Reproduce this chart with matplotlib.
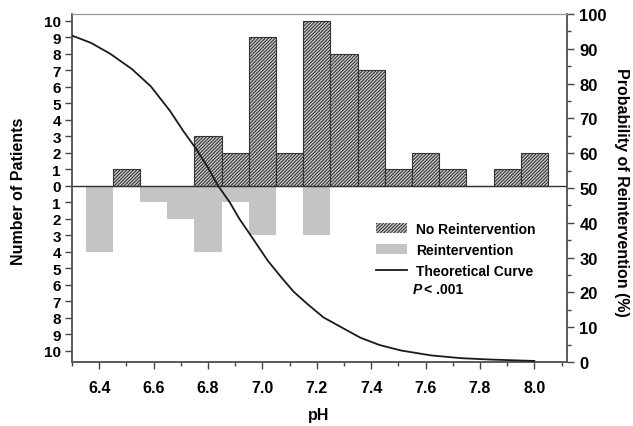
import matplotlib
matplotlib.use("Agg")
import matplotlib.pyplot as plt
from matplotlib.ticker import MultipleLocator, FuncFormatter
from matplotlib.patches import Patch
from matplotlib.lines import Line2D

# pH bins (centres, width 0.1)
ph = [6.4, 6.5, 6.6, 6.7, 6.8, 6.9, 7.0, 7.1, 7.2, 7.3, 7.4, 7.5, 7.6, 7.7, 7.8, 7.9, 8.0]
no_reint = [0, 1, 0, 0, 3, 2, 9, 2, 10, 8, 7, 1, 2, 1, 0, 1, 2]
reint = [4, 0, 1, 2, 4, 1, 3, 0, 3, 0, 0, 0, 0, 0, 0, 0, 0]

# theoretical curve (pH, probability %)
curve_ph = [6.30, 6.37, 6.44, 6.52, 6.59, 6.66, 6.71, 6.755, 6.80, 6.835, 6.88,
            6.915, 6.97, 7.02, 7.07, 7.115, 7.165, 7.225, 7.29, 7.36, 7.43,
            7.51, 7.62, 7.73, 7.84, 8.00]
curve_p = [93.8, 91.7, 88.6, 84.2, 79.2, 72.2, 66.3, 61.4, 55.9, 50.9, 45.9,
           41.2, 34.9, 29.1, 24.3, 20.2, 16.7, 12.8, 10.0, 7.0, 4.9,
           3.3, 1.9, 1.1, 0.7, 0.3]

plt.rcParams["font.family"] = ["Liberation Sans", "DejaVu Sans"]
plt.rcParams["font.weight"] = "bold"
plt.rcParams["hatch.linewidth"] = 0.8

fig = plt.figure(figsize=(6.33, 4.27), dpi=100)
ax = fig.add_axes([0.1137, 0.1499, 0.782, 0.815])

ax.bar(ph, [-v for v in reint], width=0.1, color="#c4c4c4", linewidth=0, zorder=2)
ax.bar(ph, no_reint, width=0.1, facecolor="#d0d0d0", edgecolor="#333333",
       hatch="//////////", linewidth=0.8, zorder=3)
ax.axhline(0, color="#333333", linewidth=1.0, zorder=4)

ax.set_xlim(6.3, 8.12)
ax.set_ylim(-10.67, 10.42)
ax.set_yticks(range(-10, 11))
ax.yaxis.set_major_formatter(FuncFormatter(lambda v, p: str(abs(int(round(v))))))
ax.xaxis.set_major_locator(MultipleLocator(0.2))
ax.xaxis.set_minor_locator(MultipleLocator(0.1))
ax.xaxis.set_major_formatter(FuncFormatter(lambda v, p: "%.1f" % v))
ax.tick_params(axis="y", labelsize=11, length=5, width=1, color="#444444", pad=3)
ax.tick_params(axis="x", which="major", labelsize=11.5, length=5, width=1, color="#444444", pad=8)
ax.tick_params(axis="x", which="minor", length=3, width=1, color="#444444")
for s in ["left", "bottom", "right"]:
    ax.spines[s].set_color("#555555")
    ax.spines[s].set_linewidth(1.1)
ax.spines["top"].set_color("#999999")

ax2 = ax.twinx()
ax2.plot(curve_ph, curve_p, color="#1a1a1a", linewidth=1.3, zorder=5,
         solid_joinstyle="round")
ax2.set_ylim(0, 100)
ax2.yaxis.set_major_locator(MultipleLocator(10))
ax2.yaxis.set_minor_locator(MultipleLocator(5))
ax2.tick_params(axis="y", which="major", labelsize=12, length=5, width=1, color="#444444", pad=4)
ax2.tick_params(axis="y", which="minor", length=3, width=1, color="#444444")
for s in ["left", "bottom", "right"]:
    ax2.spines[s].set_color("#555555")
    ax2.spines[s].set_linewidth(1.1)
ax2.spines["top"].set_color("#999999")

handles = [Patch(facecolor="#d0d0d0", edgecolor="#333333", hatch="//////////", linewidth=0),
           Patch(facecolor="#c4c4c4", linewidth=0),
           Line2D([], [], color="#1a1a1a", linewidth=1.3)]
labels = ["No Reintervention", "Reintervention", "Theoretical Curve"]
ax2.legend(handles, labels, loc="upper left", bbox_to_anchor=(0.595, 0.43),
           frameon=False, fontsize=10, handlelength=2.2, handleheight=0.7,
           handletextpad=0.65, labelspacing=0.5, borderpad=0.2)
ax2.text(0.689, 0.21, "P", transform=ax2.transAxes, fontsize=10,
         fontweight="bold", fontstyle="italic", ha="left", va="center")
ax2.text(0.712, 0.21, "< .001", transform=ax2.transAxes, fontsize=10,
         fontweight="bold", ha="left", va="center")

fig.text(319 / 633, 1 - 416 / 427, "pH", ha="center", va="center", fontsize=11.5, fontweight="bold")
fig.text(19 / 633, 1 - 191 / 427, "Number of Patients", ha="center", va="center",
         rotation=90, fontsize=11.5, fontweight="bold")
fig.text(622 / 633, 1 - 192 / 427, "Probability of Reintervention (%)", ha="center",
         va="center", rotation=270, fontsize=11.5, fontweight="bold")

fig.savefig("out.png", dpi=100)
